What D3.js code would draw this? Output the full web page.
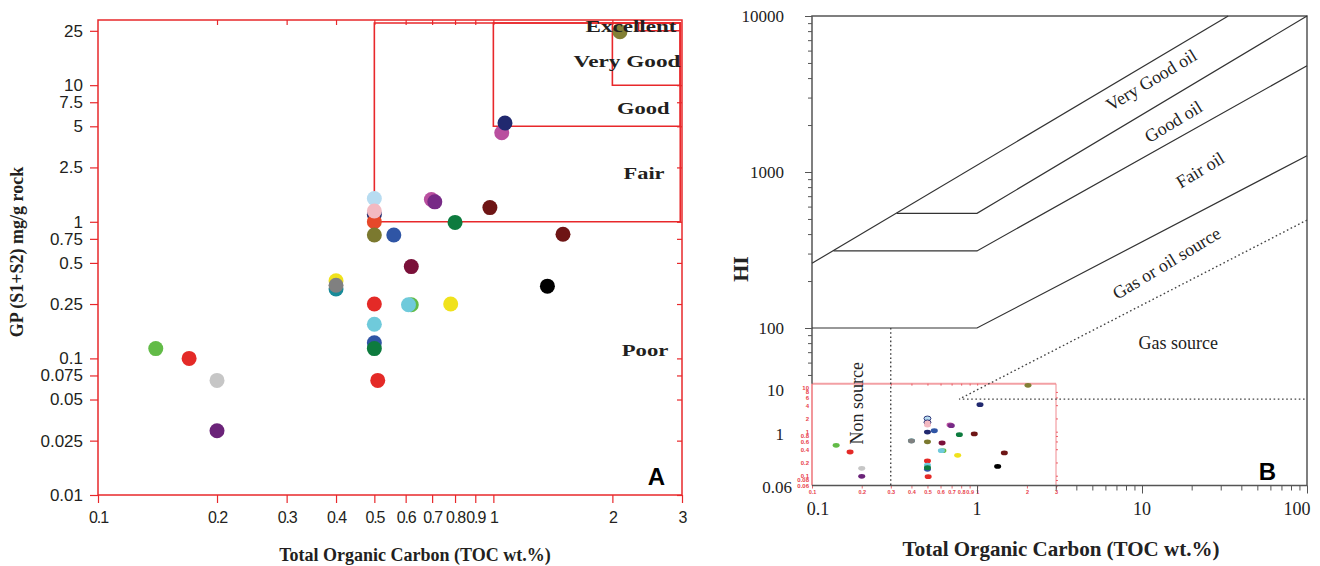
<!DOCTYPE html>
<html><head><meta charset="utf-8">
<script src="https://cdn.jsdelivr.net/npm/d3@7"></script>
<style>body{margin:0;background:#fff}</style></head>
<body><svg id="c" width="1320" height="566"></svg>
<script>
// ---------- DATA : chart A (GP vs TOC) ----------
const aTOC = [0.14,0.17,0.20,0.20,0.40,0.40,0.40,0.50,0.50,0.50,0.50,0.51,0.50,0.50,0.50,0.50,0.50,0.56,2.09,1.05,1.07,0.697,0.711,0.98,0.80,1.50,0.62,1.37,0.62,0.61,0.78];
const aGP  = [0.118,0.10,0.069,0.0295,0.37,0.322,0.343,0.25,0.178,0.13,0.118,0.069,1.48,1.13,1.0,1.2,0.8,0.8,24.6,4.48,5.28,1.456,1.40,1.27,0.99,0.81,0.47,0.338,0.247,0.247,0.25];
const aColor = ["#62bb47","#e42a27","#c6c6c6","#6b2379","#f0e21c","#188b99","#808080","#e42a27","#6fcadb","#2f55a5","#0d7b3e","#e42a27","#b7dcf1","#21296f","#e6482a","#f3b9c1","#7b792f","#2f55a5","#827f35","#b94f9f","#21296f","#b94f9f","#772a86","#6e1515","#0d7b3e","#6e1515","#7a1039","#000000","#62bb47","#6fcadb","#f0e21c"];
const aXTicks = [0.1,0.2,0.3,0.4,0.5,0.6,0.7,0.8,0.9,1,2,3];
const aYTicks = [25,10,7.5,5,2.5,1,0.75,0.5,0.25,0.1,0.075,0.05,0.025,0.01];
// potential classes: [left TOC, bottom GP]
const aBoxes = [[0.5,1],[1,5],[2,10],[2.33,25]];
const aBoxTop = 28.5, aBoxRight = 2.97;
const aClassNames = ["Excellent","Very Good","Good","Fair","Poor"];
const aClassTOC = [2.906,2.975,2.79,2.71,2.77];   // right end of label
const aClassGP  = [24.4,13.5,6.14,2.06,0.1045];   // baseline
const aClassW   = [91,107,52.6,41,46.6];

// ---------- DATA : chart B (HI vs TOC) ----------
const bXTicksMajor = [0.1,1,10,100];
const bYLabels = [10000,1000,100];
const lineVeryGood = [[0.1,260],[33.3,10000]];
const lineGood = [[0.326,543],[1,543],[100,10000]];
const lineFair = [[0.135,312],[1,312],[100,4800]];
const lineGasOil = [[0.1,100],[1,100],[100,1272]];
const dotGas = [[100,492],[0.78,35],[100,35]];
const dotNon = [[0.3,100],[0.3,9.85]];
const bTexts = ["Very Good oil","Good oil","Fair oil","Gas or oil source","Gas source","Non source"];
const bTextTOC = [11.4,15.5,22.5,14.1,16.6,0.187];
const bTextHI  = [3890,2101,1030,260,80.5,32.9];
const bTextRot = [-31,-31,-31,-31,0,-90];
// inset (copy of A, scaled)
const iTOC = [0.14,0.17,0.2,0.2,0.4,0.4,0.5,0.5,0.5,0.5,0.5,0.5,0.5,0.5,0.5,0.505,0.55,0.613,0.62,0.607,0.685,0.697,0.78,0.762,0.96,1.04,1.46,1.33,2.03];
const iVal = [0.49,0.346,0.147,0.097,0.62,0.615,2.0,1.63,1.42,0.98,0.59,0.216,0.175,0.14,0.152,0.095,1.05,0.553,0.37,0.37,1.42,1.37,0.855,0.29,0.89,4.1,0.33,0.163,11.3];
const iColor = ["#62bb47","#e42a27","#c6c6c6","#6b2379","#188b99","#808080","#b7dcf1","#f3b9c1","#f3b9c1","#21296f","#7b792f","#e42a27","#6fcadb","#2f55a5","#0d7b3e","#e42a27","#2f55a5","#7a1039","#62bb47","#6fcadb","#b94f9f","#772a86","#0d7b3e","#f0e21c","#6e1515","#21296f","#6e1515","#000000","#827f35"];
const iStroke = [null,null,null,null,null,null,"#21296f","#21296f",null,null,null,null,null,null,null,null,null,null,null,null,null,null,null,null,null,null,null,null,null];
const iXTicks = [0.1,0.2,0.3,0.4,0.5,0.6,0.7,0.8,0.9,1,2,3];
const iYTicks = [10,8,6,4,2,1,0.8,0.6,0.4,0.2,0.1,0.08,0.06];
const bLowLabels = [10,1,0.06];

// ---------- DRAW ----------
const svg = d3.select("#c");
const RED = "#e8282b";
const sans = "'Liberation Sans', Arial, sans-serif";
const serif = "'Liberation Serif', 'Times New Roman', serif";

// ===== Chart A =====
const xA = d3.scaleLog().domain([0.1,3]).range([98,682]);
const yA = d3.scaleLog().domain([0.01,30]).range([495,20]);
const gA = svg.append("g");

function styleAxis(g, col, font, size){
  g.select(".domain").remove();
  g.selectAll(".tick line").attr("stroke", col).attr("stroke-width",1.2);
  g.selectAll(".tick text").attr("fill","#231f20").style("font-family",font).style("font-size",size+"px");
}
gA.append("g").attr("transform","translate(0,495)")
  .call(d3.axisBottom(xA).tickValues(aXTicks).tickFormat(d=>String(d)).tickSize(8).tickPadding(9).tickSizeOuter(0))
  .call(g=>styleAxis(g,RED,sans,16))
  .call(g=>g.selectAll(".tick text").style("letter-spacing","-1.1px"));
gA.append("g").attr("transform","translate(98,0)")
  .call(d3.axisLeft(yA).tickValues(aYTicks).tickFormat(d=>String(d)).tickSize(8).tickPadding(7).tickSizeOuter(0))
  .call(g=>styleAxis(g,RED,sans,17));
gA.append("g").attr("transform","translate(0,20)")
  .call(d3.axisTop(xA).tickValues(aXTicks.slice(1,-1)).tickFormat("").tickSize(-5).tickSizeOuter(0))
  .call(g=>styleAxis(g,RED,sans,17));
gA.append("g").attr("transform","translate(682,0)")
  .call(d3.axisRight(yA).tickValues(aYTicks.slice(1)).tickFormat("").tickSize(-5).tickSizeOuter(0))
  .call(g=>styleAxis(g,RED,sans,17));
gA.append("rect").attr("x",xA(0.1)).attr("y",yA(30)).attr("width",xA(3)-xA(0.1)).attr("height",yA(0.01)-yA(30))
  .attr("fill","none").attr("stroke",RED).attr("stroke-width",1.5);

// class boxes
gA.selectAll("path.box").data(aBoxes).enter().append("path").attr("class","box")
  .attr("d",d=>`M${xA(d[0])},${yA(aBoxTop)}V${yA(d[1])}H${xA(aBoxRight)}V${yA(aBoxTop)}Z`)
  .attr("fill","none").attr("stroke",RED).attr("stroke-width",1.6);

// points
gA.selectAll("circle.pt").data(aTOC).enter().append("circle").attr("class","pt")
  .attr("cx",(d)=>xA(d)).attr("cy",(d,i)=>yA(aGP[i])).attr("r",7.5).attr("fill",(d,i)=>aColor[i]);

// class labels
gA.selectAll("text.cls").data(aClassNames).enter().append("text").attr("class","cls")
  .attr("x",(d,i)=>xA(aClassTOC[i])).attr("y",(d,i)=>yA(aClassGP[i]))
  .attr("text-anchor","end").attr("textLength",(d,i)=>aClassW[i]).attr("lengthAdjust","spacingAndGlyphs")
  .style("font-family",serif).style("font-weight","bold").style("font-size","17px").attr("fill","#231f20")
  .text(d=>d);

gA.append("text").attr("x",665).attr("y",485).attr("text-anchor","end")
  .style("font-family",sans).style("font-weight","bold").style("font-size","24px").text("A");
gA.append("text").attr("x",415).attr("y",561).attr("text-anchor","middle")
  .style("font-family",serif).style("font-weight","bold").style("font-size","18px").attr("fill","#231f20")
  .text("Total Organic Carbon (TOC wt.%)");
gA.append("text").attr("transform","translate(23,252) rotate(-90)").attr("text-anchor","middle")
  .style("font-family",serif).style("font-weight","bold").style("font-size","18px").attr("fill","#231f20")
  .text("GP (S1+S2) mg/g rock");

// ===== Chart B =====
const xB = d3.scaleLog().domain([0.1,100]).range([812,1307]);
const yB = d3.scaleLog().domain([10,10000]).range([484,16]);
const xI = d3.scaleLog().domain([0.1,3]).range([812,1056]);
const yI = d3.scaleLog().domain([0.06,12.3]).range([485.5,383.7]);
const gB = svg.append("g");
const GREY = "#555";

// inset frame & axes (red)
const INR = "#e8404a";
gB.append("line").attr("x1",xI(0.1)).attr("x2",xI(3)).attr("y1",yI(12.3)).attr("y2",yI(12.3))
  .attr("stroke","#f3a0a4").attr("stroke-width",2);
gB.append("line").attr("x1",xI(0.1)).attr("x2",xI(0.1)).attr("y1",yI(12.3)).attr("y2",yI(0.06))
  .attr("stroke","#ec6a70").attr("stroke-width",1.4);
gB.append("line").attr("x1",xI(3)).attr("x2",xI(3)).attr("y1",yI(12.3)).attr("y2",yI(0.06))
  .attr("stroke","#f08a90").attr("stroke-width",1);
function styleInset(g){
  g.select(".domain").remove();
  g.selectAll(".tick line").attr("stroke",INR).attr("stroke-width",0.8);
  g.selectAll(".tick text").attr("fill",INR).style("font-family",sans).style("font-weight","bold").style("font-size","5.5px");
}
gB.append("g").attr("transform",`translate(0,${yI(0.06)})`)
  .call(d3.axisBottom(xI).tickValues(iXTicks).tickFormat(d=>String(d)).tickSize(3).tickPadding(2).tickSizeOuter(0))
  .call(styleInset);
gB.append("g").attr("transform",`translate(${xI(0.1)},0)`)
  .call(d3.axisLeft(yI).tickValues(iYTicks).tickFormat(d=>String(d)).tickSize(0).tickPadding(3).tickSizeOuter(0))
  .call(styleInset)
  .call(g=>g.selectAll(".tick text").style("font-size","6px"));
gB.append("g").attr("transform",`translate(0,${yI(12.3)})`)
  .call(d3.axisTop(xI).tickValues(iXTicks.slice(1,-1)).tickFormat("").tickSize(-2).tickSizeOuter(0))
  .call(styleInset);
gB.append("g").attr("transform",`translate(${xI(3)},0)`)
  .call(d3.axisRight(yI).tickValues(iYTicks.slice(1)).tickFormat("").tickSize(2).tickSizeOuter(0))
  .call(styleInset);

// inset points
gB.selectAll("ellipse.ip").data(iTOC).enter().append("ellipse").attr("class","ip")
  .attr("cx",d=>xI(d)).attr("cy",(d,i)=>yI(iVal[i])).attr("rx",3.5).attr("ry",2.4)
  .attr("fill",(d,i)=>iColor[i]).attr("stroke",(d,i)=>iStroke[i]||"none").attr("stroke-width",0.9);

// main frame (top/right/bottom + left above inset)
gB.append("path").attr("d",`M${xB(0.1)},${yI(12.3)}V${yB(10000)}H${xB(100)}V${yI(0.06)}H${xB(0.1)}`)
  .attr("fill","none").attr("stroke",GREY).attr("stroke-width",1.5);

// y axis ticks (main scale, only above inset)
const yMinor = [];
for (let p=10; p<=1000; p*=10) for (let k=1;k<=9;k++){ const v=k*p; if (v>=50) yMinor.push(v); }
yMinor.push(10000);
gB.append("g").attr("transform",`translate(${xB(0.1)},0)`)
  .call(d3.axisLeft(yB).tickValues(yMinor).tickFormat("").tickSizeOuter(0))
  .call(g=>{g.select(".domain").remove();
    g.selectAll(".tick line").attr("stroke",GREY).attr("stroke-width",1)
      .attr("x2",d=>bYLabels.includes(d)?-7:-4);});
// y labels
gB.selectAll("text.yl").data(bYLabels).enter().append("text").attr("class","yl")
  .attr("x",784).attr("y",d=>yB(d)).attr("dy","0.35em").attr("text-anchor","end")
  .style("font-family",serif).style("font-size","17px").attr("fill","#222").text(d=>d);
gB.selectAll("text.yl2").data(bLowLabels).enter().append("text").attr("class","yl2")
  .attr("x",d=>d===0.06?792:784).attr("y",d=>yI(d)+2).attr("dy","0.35em").attr("text-anchor","end")
  .style("font-family",serif).style("font-size","17px").attr("fill","#222").text(d=>String(d));

// x axis ticks (main)
const xMinor = [];
for (let p=1; p<=10; p*=10) for (let k=1;k<=9;k++){ const v=k*p; if (v>=3) xMinor.push(v); }
xMinor.push(100);
gB.append("g").attr("transform",`translate(0,${yI(0.06)})`)
  .call(d3.axisBottom(xB).tickValues(xMinor.concat([1])).tickFormat("").tickSizeOuter(0))
  .call(g=>{g.select(".domain").remove();
    g.selectAll(".tick line").attr("stroke",GREY).attr("stroke-width",1)
      .attr("y2",d=>bXTicksMajor.includes(d)?8:5);});
gB.selectAll("text.xl").data(bXTicksMajor).enter().append("text").attr("class","xl")
  .attr("x",d=>xB(d)+(d===0.1?6:(d===100?-10:0))).attr("y",515).attr("text-anchor","middle")
  .style("font-family",serif).style("font-size","18px").attr("fill","#222").text(d=>String(d));

// lines
const lineGen = d3.line().x(d=>xB(d[0])).y(d=>yB(d[1]));
[lineVeryGood,lineGood,lineFair,lineGasOil].forEach(L=>{
  gB.append("path").attr("d",lineGen(L)).attr("fill","none").attr("stroke","#333").attr("stroke-width",1.2);
});
[dotGas,dotNon].forEach(L=>{
  gB.append("path").attr("d",lineGen(L)).attr("fill","none").attr("stroke","#444").attr("stroke-width",1.4)
    .attr("stroke-dasharray","1.6,2.6");
});

// annotations
gB.selectAll("text.ann").data(bTexts).enter().append("text").attr("class","ann")
  .attr("transform",(d,i)=>`translate(${xB(bTextTOC[i])},${yB(bTextHI[i])}) rotate(${bTextRot[i]})`)
  .attr("text-anchor","middle").attr("dominant-baseline","central")
  .style("font-family",serif).style("font-size","18px").attr("fill","#222").text(d=>d);

gB.append("text").attr("x",1276).attr("y",480).attr("text-anchor","end")
  .style("font-family",sans).style("font-weight","bold").style("font-size","24px").text("B");
gB.append("text").attr("x",1061).attr("y",556).attr("text-anchor","middle")
  .style("font-family",serif).style("font-weight","bold").style("font-size","21px").attr("fill","#222")
  .text("Total Organic Carbon (TOC wt.%)");
gB.append("text").attr("transform","translate(748,269) rotate(-90)").attr("text-anchor","middle")
  .style("font-family",serif).style("font-weight","bold").style("font-size","22px").attr("fill","#222")
  .text("HI");
</script>
</body></html>
